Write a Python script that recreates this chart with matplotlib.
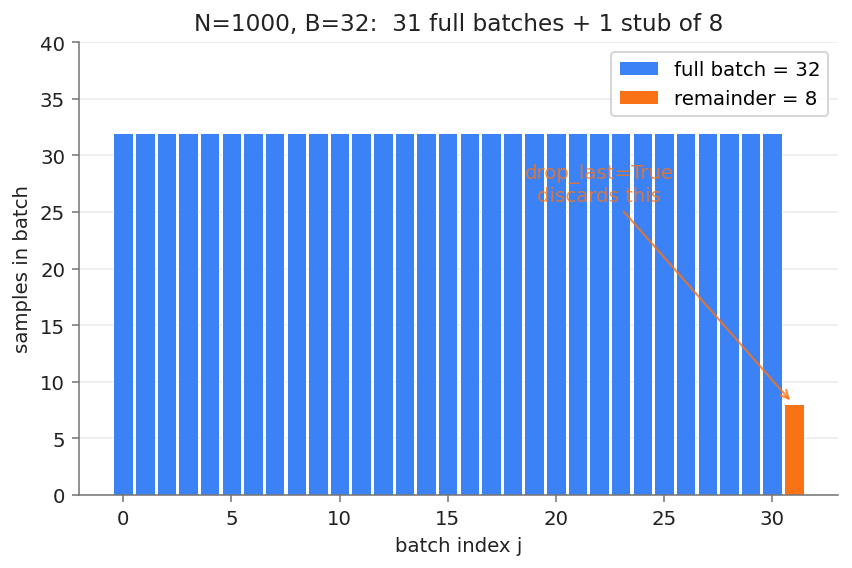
import matplotlib.pyplot as plt
import numpy as np

N = 1000
B = 32
full_sizes = [32] * 31
stub_size = [8]
full_idx = np.arange(len(full_sizes))
stub_idx = [len(full_sizes)]

blue = '#3b82f6'
orange = '#f97316'
ink = '#222222'

fig, ax = plt.subplots(figsize=(6, 4.007), dpi=142)
fig.subplots_adjust(left=0.0927, right=0.9836, top=0.9244, bottom=0.1283)

ax.bar(full_idx, full_sizes, width=0.9, color=blue, edgecolor='white', linewidth=0.5,
       label='full batch = 32', zorder=2)
ax.bar(stub_idx, stub_size, width=0.9, color=orange, edgecolor='white', linewidth=0.5,
       label='remainder = 8', zorder=2)

# point at the leftover stub
ax.annotate('drop_last=True\ndiscards this', xy=(stub_idx[0] - 0.05, stub_size[0] + 0.1),
            xytext=(22, 27.5), ha='center', va='center', fontsize=10,
            color=orange, alpha=0.8,
            arrowprops=dict(arrowstyle='->', color=orange, alpha=0.8, lw=1.1), zorder=3)

ax.set_ylim(0, 40)
ax.set_title(f'N={N}, B={B}:  31 full batches + 1 stub of 8', fontsize=11.8, color=ink)
ax.set_xlabel('batch index j', fontsize=10, color=ink)
ax.set_ylabel('samples in batch', fontsize=10, color=ink)
ax.tick_params(labelsize=10, colors=ink)
ax.tick_params(axis='both', color='#777777')
ax.grid(axis='y', color='#ebebeb', linewidth=0.8, zorder=0)
ax.set_axisbelow(True)
for s in ['top', 'right']:
    ax.spines[s].set_visible(False)
for s in ['left', 'bottom']:
    ax.spines[s].set_color('#777777')
ax.legend(loc='upper right', fontsize=10)

fig.savefig('out.png')
